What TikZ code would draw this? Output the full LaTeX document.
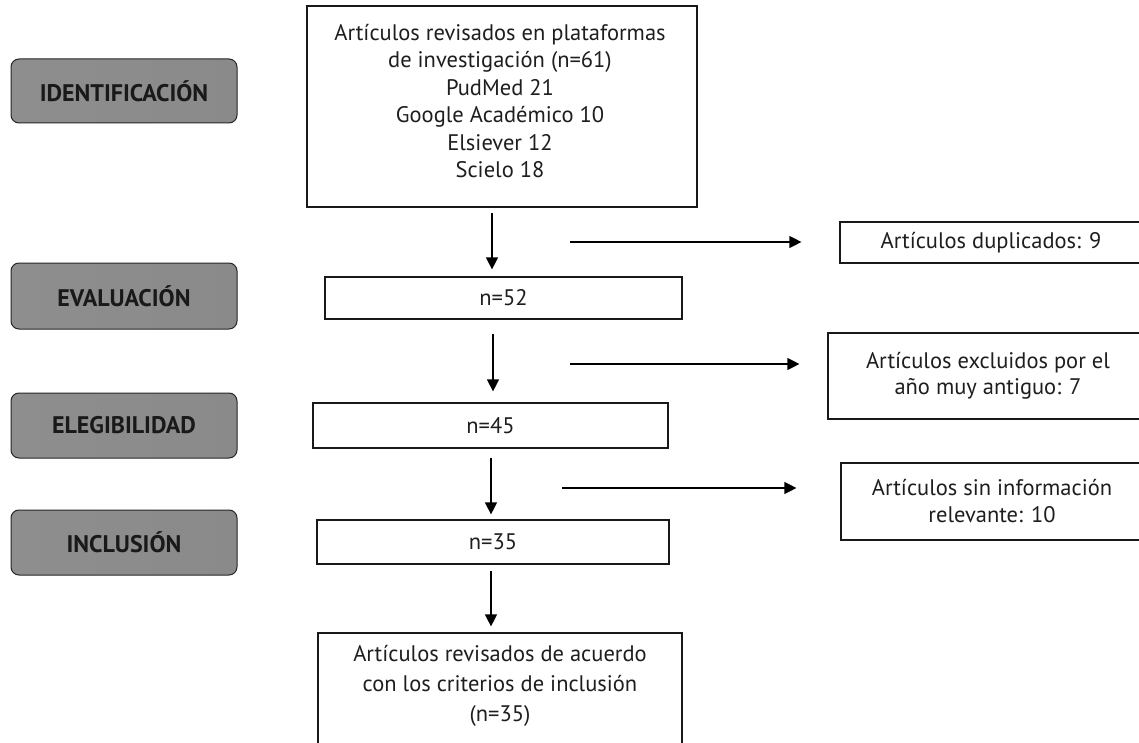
\documentclass[tikz,border=0pt]{standalone}
\usepackage{fontspec}
\setmainfont{PT Sans}
\usetikzlibrary{arrows.meta}
\definecolor{phL}{HTML}{8E8E8E}
\definecolor{phM}{HTML}{ABABAB}
\definecolor{phR}{HTML}{8A8A8A}
\definecolor{ink}{HTML}{1E1E1E}
\begin{document}
\begin{tikzpicture}[x=1pt,y=-1pt,
  phase/.style={draw=black!85, line width=1pt, rounded corners=8pt,
    left color=phL, middle color=phM, right color=phR,
    minimum width=226pt, inner sep=0pt, text=black!90,
    font=\fontsize{24}{28}\selectfont\bfseries},
  box/.style={draw=black!90, line width=1.2pt, fill=white, inner sep=0pt,
    align=center, text=ink, font=\fontsize{22.5}{27.4}\selectfont},
  arr/.style={draw=black, line width=1.2pt, -{Triangle[length=12pt,width=12pt]}}]
\useasboundingbox (0,0) rectangle (1139,743);
\clip (0,0) rectangle (1139,743);
\fill[white] (0,0) rectangle (1139,743);
% phase labels
\node[phase, minimum height=64pt] (p1) at (124,91) {IDENTIFICACIÓN};
\node[phase, minimum height=66pt] (p2) at (124,296) {EVALUACIÓN};
\node[phase, minimum height=65pt] (p3) at (124,425.5) {ELEGIBILIDAD};
\node[phase, minimum height=65pt] (p4) at (124,542.5) {INCLUSIÓN};
% main column
\node[box, minimum width=390pt, minimum height=201pt] (main) at (502,106.5) {};
\node[align=center, text=ink, font=\fontsize{22.5}{27.4}\selectfont] (maint) at (500,101)
  {Artículos revisados en plataformas\\ de investigación (n=61)\\ PudMed 21\\ Google Académico 10\\ Elsiever 12\\ Scielo 18};
\node[box, minimum width=357pt, minimum height=42pt] (n52) at (503.5,298) {n=52};
\node[box, minimum width=355pt, minimum height=45pt] (n45) at (490.5,425.5) {n=45};
\node[box, minimum width=352pt, minimum height=44pt] (n35) at (493,542) {n=35};
\node[box, minimum width=364pt, minimum height=119pt] (fin) at (500,692.5) {};
\node[align=center, text=ink, font=\fontsize{22.5}{30}\selectfont] (fint) at (500,686)
  {Artículos revisados de acuerdo\\ con los criterios de inclusión\\ (n=35)};
% side boxes
\node[box, minimum width=302pt, minimum height=41pt] (dup) at (991,242.5) {Artículos duplicados: 9};
\node[box, minimum width=320pt, minimum height=86pt, font=\fontsize{22.5}{26}\selectfont] (exc) at (988,376)
  {Artículos excluidos por el\\ año muy antiguo: 7};
\node[box, minimum width=302pt, minimum height=77pt, font=\fontsize{22.5}{27}\selectfont] (sin) at (992,501.5)
  {Artículos sin información\\ relevante: 10};
% free ends of side arrows
\coordinate (h1s) at (570,242);
\coordinate (h2s) at (570,364);
\coordinate (h3s) at (562,488);
% vertical arrows
\draw[arr, shorten <=5pt, shorten >=7pt] (main.south -| 492,0) -- (n52.north -| 492,0);
\draw[arr, shorten <=14pt, shorten >=11pt] (n52.south -| 493,0) -- (n45.north -| 493,0);
\draw[arr, shorten <=9pt, shorten >=5pt] (n45.south -| 491,0) -- (n35.north -| 491,0);
\draw[arr, shorten <=6pt, shorten >=6pt] (n35.south -| 491,0) -- (fin.north -| 491,0);
% horizontal arrows
\draw[arr, shorten >=38pt] (h1s) -- (h1s -| dup.west);
\draw[arr, shorten >=28pt] (h2s) -- (h2s -| exc.west);
\draw[arr, shorten >=44pt] (h3s) -- (h3s -| sin.west);
\end{tikzpicture}
\end{document}
